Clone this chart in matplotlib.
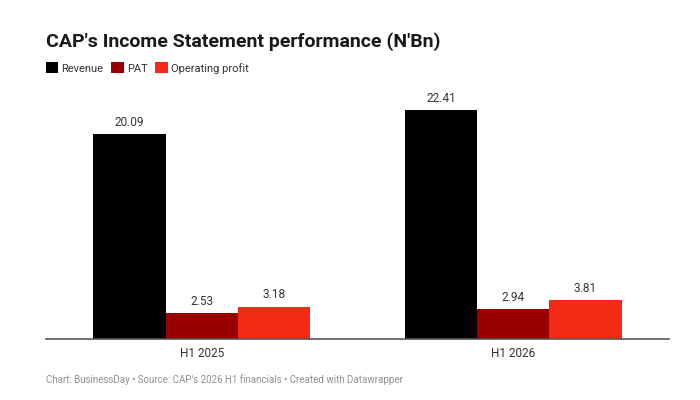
import matplotlib
matplotlib.use("Agg")
import matplotlib.pyplot as plt
import numpy as np
from matplotlib.patches import Patch

plt.rcParams['font.family'] = ['Roboto', 'DejaVu Sans']

periods = ["H1 2025", "H1 2026"]
series = ["Revenue", "PAT", "Operating profit"]
revenue = [20.09, 22.41]
pat = [2.53, 2.94]
op_profit = [3.18, 3.81]
colors = ["#000000", "#990000", "#f42a16"]

fig = plt.figure(figsize=(7, 4), dpi=100)
ax = fig.add_axes([46/700, 1 - 339/400, 623/700, 255/400])

x = np.arange(len(periods))
w = 0.232
for i, (vals, c) in enumerate(zip([revenue, pat, op_profit], colors)):
    pos = x + (i - 1) * w
    ax.bar(pos, vals, width=w, color=c, zorder=2)
    for p, v in zip(pos, vals):
        ax.text(p, v + 0.5, f"{v:.2f}", ha="center", va="bottom",
                fontsize=8.5, color="#333333")

ax.set_xlim(-0.5, 1.5)
ax.set_ylim(0, 25)
ax.set_xticks(x)
ax.set_xticklabels(periods, fontsize=8.5, color="#333333")
ax.tick_params(axis="x", length=0, pad=6)
ax.set_yticks([])
for s in ["top", "right", "left"]:
    ax.spines[s].set_visible(False)
ax.spines["bottom"].set_color("#555555")
ax.spines["bottom"].set_linewidth(1.2)

fig.text(46/700, 1 - 42/400, "CAP's Income Statement performance (N'Bn)",
         fontsize=14.0, fontweight="bold", color="#1a1a1a", va="center", ha="left")

handles = [Patch(facecolor=c, edgecolor="none") for c in colors]
fig.legend(handles, series, loc="center left", bbox_to_anchor=(46/700, 1 - 68/400),
           ncol=3, frameon=False, fontsize=8, handlelength=1.1, handleheight=1.1,
           handletextpad=0.3, columnspacing=0.7, borderaxespad=0, borderpad=0,
           labelcolor="#333333")

fig.text(46/700, 1 - 380/400,
         "Chart: BusinessDay \u2022 Source: CAP's 2026 H1 financials \u2022 Created with Datawrapper",
         fontsize=7.0, color="#909090", va="center", ha="left")

fig.savefig("out.png", dpi=100)
